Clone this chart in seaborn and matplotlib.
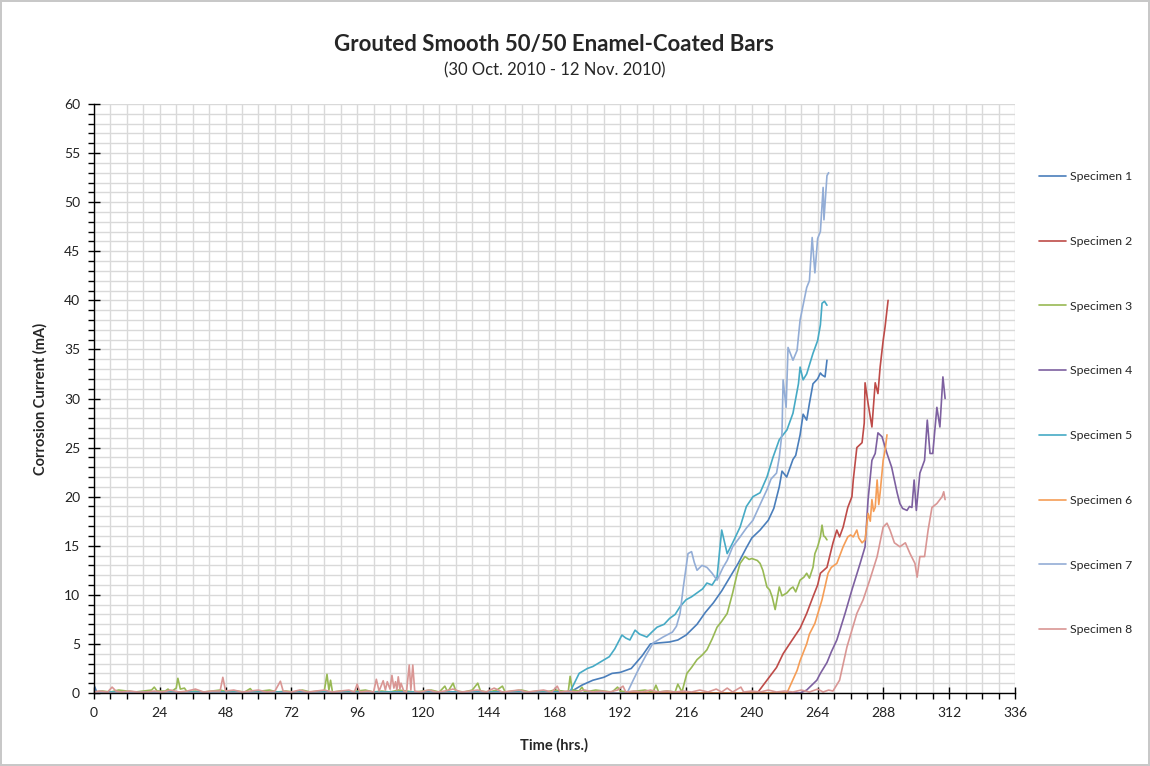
import numpy as np
import pandas as pd
import matplotlib
matplotlib.use('Agg')
import matplotlib.pyplot as plt
from matplotlib.ticker import MultipleLocator
import seaborn as sns

# Corrosion current readings (hrs, mA), one pair of lists per specimen
s1_hrs = [0, 1, 172, 175, 178, 182, 186, 189, 192, 196, 200, 203, 206, 210, 213, 216, 220, 223,
          226, 229, 232, 235, 238, 240, 243, 246, 248, 250, 251, 252.7, 255, 256, 257.6, 258.7,
          260, 261, 262.3, 264, 265, 265.6, 266.7, 267.4]
s1_ma = [0.8, 0.1, 0.1, 0.3, 0.8, 1.3, 1.6, 2.0, 2.1, 2.5, 3.8, 5.0, 5.1, 5.2, 5.4, 5.9, 7.0, 8.2,
         9.2, 10.4, 11.8, 13.2, 14.8, 15.8, 16.6, 17.6, 18.8, 21.0, 22.6, 22.0, 23.8, 24.2, 26.3, 28.4,
         27.8, 29.5, 31.5, 32.0, 32.6, 32.4, 32.2, 33.9]

s2_hrs = [0, 242, 245.5, 249, 251.4, 254, 257.6, 260, 262.3, 264, 265, 267.4, 269.6, 271, 272,
          273.3, 275, 276.5, 277, 278.3, 280.2, 281, 281.3, 282.4, 283.8, 285, 286, 286.8, 287.9,
          288.6, 289.7]
s2_ma = [0.0, 0.0, 1.3, 2.6, 4.0, 5.1, 6.6, 8.1, 9.8, 11.0, 12.2, 12.8, 15.3, 16.6, 15.9,
         16.9, 18.9, 20.0, 21.7, 25.0, 25.5, 27.5, 31.6, 29.5, 27.1, 31.6, 30.5, 33.2, 35.9,
         37.3, 40.0]

s3_hrs = [0, 3, 6, 9, 12, 15, 18, 21, 22, 23, 26, 27, 28, 30, 30.6, 31.5, 33, 34, 37, 40, 43, 46,
          49, 52, 55, 57, 58, 61, 64, 67, 70, 73, 76, 79, 82, 84, 85, 85.7, 86.3, 87, 90, 93, 96,
          99, 102, 105, 108, 111, 114, 117, 120, 123, 126, 128, 129, 131, 132, 135, 138, 140, 141,
          144, 147, 149, 150, 153, 156, 159, 162, 165, 168, 171, 173, 173.7, 174.5, 177, 178, 179,
          183, 186, 189, 191, 192, 195, 198, 201, 204, 205, 206, 209, 212, 213, 214.5, 216.3, 218,
          220, 222, 223.6, 225.5, 227.3, 229, 231, 233, 234.5, 235.7, 237.5, 239, 240, 242, 243,
          244, 245.5, 246.5, 247.4, 248.5, 249.2, 250, 251, 252.8, 254, 255, 256, 257.6, 259, 260,
          261, 262.3, 263, 264, 265, 265.6, 266.2, 266.7, 267.4]
s3_ma = [0.1, 0.2, 0.1, 0.3, 0.2, 0.1, 0.2, 0.3, 0.6, 0.2, 0.2, 0.4, 0.1, 0.5, 1.5, 0.4, 0.5, 0.1, 0.2, 0.1, 0.2, 0.3,
         0.1, 0.2, 0.1, 0.45, 0.1, 0.2, 0.3, 0.1, 0.2, 0.1, 0.3, 0.1, 0.2, 0.2, 1.9, 0.3, 1.3, 0.1, 0.2, 0.1, 0.2,
         0.3, 0.1, 0.2, 0.1, 0.3, 0.2, 0.1, 0.2, 0.3, 0.1, 0.7, 0.1, 1.0, 0.2, 0.1, 0.3, 1.0, 0.2,
         0.1, 0.3, 0.7, 0.1, 0.2, 0.3, 0.1, 0.2, 0.1, 0.3, 0.2, 0.1, 1.7, 0.3, 0.2, 0.6, 0.1,
         0.3, 0.2, 0.1, 0.6, 0.2, 0.1, 0.2, 0.3, 0.1, 0.8, 0.1, 0.2, 0.1, 0.9, 0.1, 2.0, 2.6,
         3.4, 3.9, 4.4, 5.5, 6.7, 7.3, 8.1, 10.2, 12.0, 13.2, 13.9, 13.6, 13.7, 13.5, 13.2,
         12.5, 10.8, 10.5, 9.8, 8.5, 9.6, 10.8, 9.9, 10.2, 10.6, 10.8, 10.3, 11.5, 11.8, 12.2,
         11.7, 12.8, 14.2, 14.9, 15.9, 17.1, 16.0, 15.9, 15.6]

s4_hrs = [0, 257.6, 260, 263.7, 265, 267.4, 269, 271, 274, 276.5, 279.5, 281.3, 282.4, 283.8, 285,
          286, 287.5, 289.3, 291, 293, 294, 295, 296.6, 297.5, 298.4, 299.2, 300, 301.3, 303, 304,
          305, 306, 307.5, 308.6, 309.7, 310.5]
s4_ma = [0.0, 0.0, 0.3, 1.3, 2.0, 3.1, 4.2, 5.4, 8.1, 10.5, 13.2, 14.9, 19.7, 23.7, 24.4,
         26.5, 26.1, 24.4, 23.0, 20.4, 19.3, 18.8, 18.6, 19.0, 18.9, 21.7, 18.6, 22.4, 23.7, 27.8,
         24.4, 24.4, 29.1, 27.1, 32.2, 30.0]

s5_hrs = [0, 173, 174, 177, 180, 182, 185, 188, 190, 192.6, 194, 195.5, 197.4, 199, 201.7, 203.5,
          205.4, 208, 210, 212, 213.8, 216, 218, 220, 222, 223.6, 225.5, 227.3, 229, 231, 233,
          235.7, 238, 240.4, 243, 245.5, 247.7, 250, 252.8, 255, 257, 257.6, 258.7, 260, 262.3,
          264, 265, 265.6, 266.5, 267.4]
s5_ma = [0.1, 0.1, 0.3, 2.0, 2.5, 2.7, 3.2, 3.7, 4.5, 5.9, 5.6, 5.4, 6.4, 6.0, 5.7, 6.2,
         6.7, 7.0, 7.6, 8.0, 8.8, 9.5, 9.8, 10.2, 10.6, 11.2, 11.0, 11.8, 16.6, 14.2, 15.3,
         16.9, 19.0, 20.0, 20.4, 22.0, 24.0, 25.8, 26.8, 28.5, 31.5, 33.2, 31.9, 32.5, 34.6,
         35.9, 37.5, 39.7, 39.9, 39.5]

s6_hrs = [0, 252.8, 256.5, 257.6, 260, 261, 263, 265.6, 267.8, 269, 271, 273.3, 275, 276, 277,
          278.3, 279, 280.2, 281.3, 282.4, 283.2, 283.8, 284.4, 285, 285.7, 286.3, 286.8, 287.9,
          288.6, 289.3]
s6_ma = [0.0, 0.0, 2.3, 3.3, 5.0, 6.0, 7.1, 9.5, 12.2, 12.8, 13.2, 14.9, 15.9, 16.1, 15.9,
         16.6, 15.8, 15.3, 15.6, 18.3, 17.5, 19.7, 18.5, 18.9, 21.7, 19.2, 20.4, 23.7,
         24.7, 26.3]

s7_hrs = [0, 194.5, 196.7, 199, 201.7, 204, 207.6, 211, 212.5, 213.8, 215, 216.7, 218, 219, 220,
          221.8, 223.6, 225.5, 227.3, 229.5, 231, 233, 235.7, 238, 240.4, 243, 245.5, 247, 249,
          250, 251, 251.4, 252.5, 253.2, 255, 256.5, 257.6, 260, 261, 262, 263, 264, 265, 266,
          266.3, 267.4, 268]
s7_ma = [0.0, 0.0, 1.3, 2.6, 4.0, 5.1, 5.7, 6.2, 6.8, 8.1, 10.8, 14.2, 14.4, 13.3, 12.5,
         13.0, 12.8, 12.2, 11.5, 12.8, 13.5, 14.9, 15.9, 16.8, 17.6, 19.2, 20.7, 21.8, 22.4,
         24.0, 26.5, 31.9, 29.1, 35.2, 33.9, 34.9, 38.0, 41.3, 42.0, 46.4, 42.8, 46.3, 47.0, 51.5,
         48.2, 52.7, 53.0]

s8_hrs = [0, 2, 5, 6.6, 8, 10, 13, 16, 19, 22, 25, 28, 31, 34, 37, 40, 43, 46, 47, 48, 51, 54,
          57, 60, 63, 66, 68, 69, 72, 75, 78, 81, 84, 87, 90, 93, 95, 96, 97, 100, 102, 103, 104,
          105.5, 106.3, 107, 108, 108.7, 109.4, 110, 110.5, 111, 111.6, 112, 113, 114, 115, 115.6,
          116.3, 117, 119, 122, 125, 128, 131, 134, 137, 140, 143, 146, 149, 152, 155, 158, 161,
          164, 167, 169, 170, 173, 176, 179, 182, 185, 188, 191, 193, 194, 197, 200, 203, 206,
          209, 212, 215, 218, 221, 224, 227, 229, 231, 233, 236, 237, 240, 243, 246, 249, 252,
          255, 258, 261, 264, 266, 268, 269.6, 272, 274.7, 278.3, 280.6, 283, 285.7, 287.9, 289.3,
          290.4, 292, 294, 296, 297.7, 299.5, 300.3, 301.3, 303, 304.3, 305.7, 307.5, 309.4, 310,
          310.5]
s8_ma = [0.1, 0.2, 0.1, 0.6, 0.2, 0.1, 0.2, 0.1, 0.1, 0.2, 0.1, 0.3, 0.1, 0.2, 0.4, 0.1, 0.2, 0.2, 1.6, 0.2, 0.3, 0.1,
         0.2, 0.3, 0.1, 0.2, 1.2, 0.2, 0.1, 0.3, 0.1, 0.2, 0.3, 0.1, 0.2, 0.3, 0.1, 0.9, 0.1, 0.2, 0.1, 1.4, 0.2,
         1.25, 0.3, 1.15, 0.4, 1.8, 0.5, 1.15, 0.3, 1.65, 0.4, 1.0, 0.2, 0.1, 2.85, 0.3,
         2.85, 0.2, 0.1, 0.3, 0.1, 0.2, 0.4, 0.1, 0.2, 0.3, 0.1, 0.5, 0.1, 0.2, 0.3, 0.1, 0.2,
         0.3, 0.1, 0.7, 0.1, 0.2, 0.1, 0.3, 0.1, 0.2, 0.1, 0.3, 0.7, 0.1, 0.2, 0.1, 0.3, 0.1,
         0.2, 0.1, 0.2, 0.1, 0.3, 0.1, 0.4, 0.1, 0.5, 0.1, 0.6, 0.1, 0.2, 0.1, 0.3, 0.1, 0.2,
         0.1, 0.3, 0.1, 0.4, 0.1, 0.3, 0.2, 1.3, 4.7, 8.1, 9.5, 11.5, 13.9, 16.9, 17.3,
         16.6, 15.3, 14.9, 15.3, 14.2, 13.2, 11.8, 13.9, 13.9, 16.6, 18.9, 19.3, 20.0, 20.5,
         19.7]

specimens = ['Specimen 1', 'Specimen 2', 'Specimen 3', 'Specimen 4',
             'Specimen 5', 'Specimen 6', 'Specimen 7', 'Specimen 8']
colors = ['#4A7EBB', '#BE4B48', '#98B954', '#7D60A0', '#46AAC5', '#F59D56', '#93ADD6', '#D99694']

series = [(s1_hrs, s1_ma), (s2_hrs, s2_ma), (s3_hrs, s3_ma), (s4_hrs, s4_ma),
          (s5_hrs, s5_ma), (s6_hrs, s6_ma), (s7_hrs, s7_ma), (s8_hrs, s8_ma)]

frames = []
for name, (h, m) in zip(specimens, series):
    frames.append(pd.DataFrame({'Time': h, 'Current': m, 'Specimen': name}))
df = pd.concat(frames, ignore_index=True)

sns.set_style('white')
plt.rcParams['font.family'] = ['Lato', 'DejaVu Sans']

fig = plt.figure(figsize=(11.5, 7.66), dpi=100)
ax = fig.add_axes([94 / 1150, 73 / 766, 921 / 1150, 589 / 766])

sns.lineplot(data=df, x='Time', y='Current', hue='Specimen', palette=colors,
             estimator=None, sort=False, linewidth=1.2, ax=ax)

ax.set_xlim(0, 336)
ax.set_ylim(0, 60)
ax.xaxis.set_major_locator(MultipleLocator(24))
ax.xaxis.set_minor_locator(MultipleLocator(6))
ax.yaxis.set_major_locator(MultipleLocator(5))
ax.yaxis.set_minor_locator(MultipleLocator(1))
ax.grid(True, which='both', color='#D9D9D9', linewidth=1.0)
ax.set_axisbelow(True)
for s in ['top', 'right']:
    ax.spines[s].set_visible(False)
for s in ['left', 'bottom']:
    ax.spines[s].set_color('black')
    ax.spines[s].set_linewidth(1.0)
ax.tick_params(which='major', direction='inout', length=8, width=1, color='black',
               labelsize=10, labelcolor='#222222', pad=6)
ax.tick_params(which='minor', direction='out', length=4, width=1, color='black')
ax.tick_params(axis='both', which='both', bottom=True, left=True)

ax.set_xlabel('Time (hrs.)', fontsize=10.5, fontweight='bold', labelpad=14)
ax.set_ylabel('Corrosion Current (mA)', fontsize=10.5, fontweight='bold', labelpad=12)

fig.text(0.482, 1 - 44 / 766, 'Grouted Smooth 50/50 Enamel-Coated Bars', ha='center', va='center',
         fontsize=16, fontweight='bold')
fig.text(0.482, 1 - 70 / 766, '(30 Oct. 2010 - 12 Nov. 2010)', ha='center', va='center',
         fontsize=12)

handles, labels = ax.get_legend_handles_labels()
ax.get_legend().remove()
fig.legend(handles, labels, loc='upper left', bbox_to_anchor=(1028 / 1150, 1 - 160 / 766),
           frameon=False, fontsize=8.8, labelspacing=4.4, handlelength=2.2, handletextpad=0.3)

fig.patch.set_edgecolor('#C8C8C8')
fig.patch.set_linewidth(1.5)

plt.savefig('out.png', dpi=100, edgecolor=fig.get_edgecolor())
plt.close()
